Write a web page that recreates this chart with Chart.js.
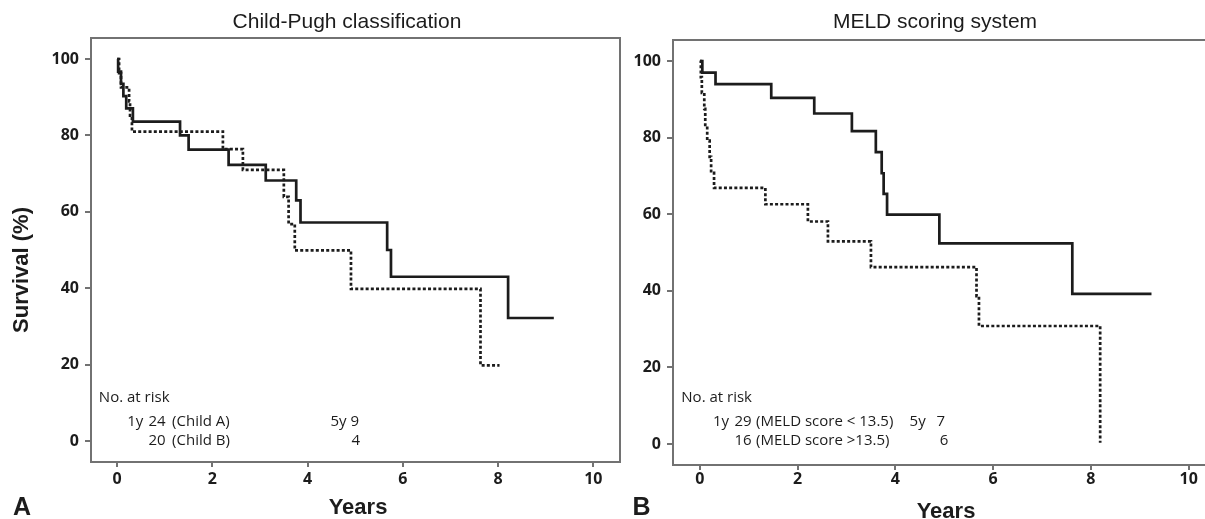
<!DOCTYPE html>
<html>
<head>
<meta charset="utf-8">
<title>Survival by Child-Pugh and MELD</title>
<script src="https://cdn.jsdelivr.net/npm/chart.js@4.4.0/dist/chart.umd.min.js"></script>
<style>
html, body { margin: 0; padding: 0; background: #fff; overflow: hidden; }
#wrap { position: relative; width: 1205px; height: 519px; overflow: hidden; }
#panelA { position: absolute; left: 0; top: 0; width: 625px; height: 519px; }
#panelB { position: absolute; left: 625px; top: 0; width: 600px; height: 519px; }
canvas { display: block; }
</style>
</head>
<body>
<div id="wrap">
  <div id="panelA"><canvas id="chartA" width="625" height="519" style="width:625px;height:519px"></canvas></div>
  <div id="panelB"><canvas id="chartB" width="600" height="519" style="width:600px;height:519px"></canvas></div>
</div>
<script>
// axis ticks
var xTicks = [0, 2, 4, 6, 8, 10];
var yTicks = [0, 20, 40, 60, 80, 100];

// A: Child-Pugh (time in years, survival in %)
var childATime = [0, 0.02, 0.08, 0.13, 0.19, 0.33, 1.32, 1.50, 2.34, 3.12, 3.76, 3.85, 5.67, 5.75, 8.21, 9.17];
var childASurv = [100, 96.7, 93.5, 90.3, 87.1, 83.6, 80.0, 76.3, 72.3, 68.2, 63.0, 57.2, 50.0, 43.0, 32.2, 32.2];
var childBTime = [0, 0.04, 0.08, 0.25, 0.27, 0.31, 2.22, 2.64, 3.50, 3.60, 3.73, 4.91, 7.63, 8.03];
var childBSurv = [100, 96.3, 92.6, 88.9, 85.2, 81.0, 76.4, 71.0, 63.9, 56.8, 49.9, 39.8, 19.8, 19.8];

// B: MELD score
var meldLowTime = [0, 0.05, 0.32, 1.46, 2.34, 3.11, 3.60, 3.72, 3.76, 3.83, 4.90, 7.62, 9.24];
var meldLowSurv = [100, 97.0, 94.0, 90.4, 86.3, 81.7, 76.2, 70.7, 65.3, 59.9, 52.4, 39.2, 39.2];
var meldHighTime = [0, 0.02, 0.04, 0.09, 0.11, 0.15, 0.20, 0.23, 0.29, 1.34, 2.21, 2.62, 3.50, 5.66, 5.71, 8.19];
var meldHighSurv = [100, 95.8, 91.7, 87.5, 83.3, 79.2, 75.0, 70.8, 66.9, 62.6, 58.1, 52.9, 46.2, 38.6, 30.8, 0.3];

// numbers at risk
var riskTextA = ["1y", "24", "(Child A)", "5y", "9", "20", "(Child B)", "4"];
var riskTextB = ["1y", "29", "(MELD score < 13.5)", "5y", "7", "16", "(MELD score >13.5)", "6"];

var INK = "#1c1c1c";
var FRAME = "#727272";
var TICK_FONT = { family: "'Open Sans', 'DejaVu Sans', sans-serif", size: 16, weight: "bold" };

function points(t, s) {
    var out = [], i;
    for (i = 0; i < t.length; i++) {
        out.push({ x: t[i], y: s[i] });
    }
    return out;
}

var panelText = {
    id: "panelText",
    afterDraw: function (chart, args, o) {
        var ctx = chart.ctx, a = chart.chartArea,
            xs = chart.scales.x, ys = chart.scales.y, i, r;
        ctx.save();
        ctx.strokeStyle = FRAME;
        ctx.lineWidth = 2;
        ctx.strokeRect(a.left, a.top, a.right - a.left, a.bottom - a.top);

        ctx.fillStyle = INK;
        ctx.textBaseline = "alphabetic";
        ctx.textAlign = "center";
        ctx.font = "21px 'Liberation Sans', Arial, sans-serif";
        ctx.fillText(o.title, o.titlePos[0], o.titlePos[1]);

        ctx.font = "bold 22px 'Liberation Sans', Arial, sans-serif";
        ctx.fillText("Years", o.yearsPos[0], o.yearsPos[1]);
        ctx.font = "bold 25px 'Liberation Sans', Arial, sans-serif";
        ctx.fillText(o.letter, o.letterPos[0], o.letterPos[1]);

        if (o.yTitle) {
            ctx.save();
            ctx.translate(o.yTitlePos[0], o.yTitlePos[1]);
            ctx.rotate(-Math.PI / 2);
            ctx.font = "bold 22px 'Liberation Sans', Arial, sans-serif";
            ctx.textBaseline = "middle";
            ctx.fillText(o.yTitle, 0, 0);
            ctx.restore();
        }

        // at-risk table, anchored in data units
        ctx.font = "15px 'Open Sans', 'DejaVu Sans', sans-serif";
        ctx.textAlign = "left";
        ctx.textBaseline = "middle";
        ctx.fillText("No. at risk", xs.getPixelForValue(o.headPos[0]), ys.getPixelForValue(o.headPos[1]));
        for (i = 0; i < o.risk.length; i++) {
            r = o.riskPos[i];
            ctx.fillText(o.risk[i], xs.getPixelForValue(r[0]), ys.getPixelForValue(r[1]));
        }
        ctx.restore();
    }
};

function makeChart(id, sets, yWidth, xHeight, pad, tickLen, tickPad, textOpts) {
    return new Chart(document.getElementById(id).getContext("2d"), {
        type: "line",
        data: {
            datasets: sets.map(function (s) {
                return {
                    data: points(s.t, s.s),
                    stepped: "before",
                    borderColor: INK,
                    borderWidth: 2.7,
                    borderDash: s.dash,
                    borderCapStyle: "butt",
                    pointRadius: 0,
                    fill: false
                };
            })
        },
        options: {
            responsive: false,
            animation: false,
            devicePixelRatio: 1,
            layout: { padding: pad },
            plugins: {
                legend: { display: false },
                tooltip: { enabled: false },
                panelText: textOpts
            },
            scales: {
                x: {
                    type: "linear",
                    min: -0.55,
                    max: 10.56,
                    afterBuildTicks: function (sc) {
                        sc.ticks = xTicks.map(function (v) { return { value: v }; });
                    },
                    afterFit: function (sc) { sc.height = xHeight; },
                    border: { display: false },
                    grid: { drawOnChartArea: false, drawTicks: true, tickLength: tickLen[0], color: FRAME, lineWidth: 2 },
                    ticks: { font: TICK_FONT, color: INK, padding: tickPad[0], maxRotation: 0 }
                },
                y: {
                    type: "linear",
                    min: -5.5,
                    max: 105.5,
                    afterBuildTicks: function (sc) {
                        sc.ticks = yTicks.map(function (v) { return { value: v }; });
                    },
                    afterFit: function (sc) { sc.width = yWidth; },
                    border: { display: false },
                    grid: { drawOnChartArea: false, drawTicks: true, tickLength: tickLen[1], color: FRAME, lineWidth: 2 },
                    ticks: { font: TICK_FONT, color: INK, padding: tickPad[1] }
                }
            }
        },
        plugins: [panelText]
    });
}

makeChart("chartA", [
    { t: childATime, s: childASurv, dash: [] },
    { t: childBTime, s: childBSurv, dash: [3, 2.2] }
], 91, 57, { top: 38, right: 5, left: 0, bottom: 0 }, [5, 6], [3, 6], {
    title: "Child-Pugh classification",
    titlePos: [347, 28],
    yearsPos: [358, 514],
    letter: "A",
    letterPos: [22, 515],
    yTitle: "Survival (%)",
    yTitlePos: [22, 270],
    headPos: [-0.385, 11.3],
    risk: riskTextA,
    riskPos: [[0.21, 5.06], [0.655, 5.06], [1.153, 5.06], [4.48, 5.06], [4.9, 5.06],
              [0.655, 0.1], [1.153, 0.1], [4.92, 0.1]]
});

makeChart("chartB", [
    { t: meldLowTime, s: meldLowSurv, dash: [] },
    { t: meldHighTime, s: meldHighSurv, dash: [3, 2.2] }
], 48, 54, { top: 40, right: 9, left: 0, bottom: 0 }, [5, 6], [0, 6], {
    title: "MELD scoring system",
    titlePos: [310, 28],
    yearsPos: [321, 518],
    letter: "B",
    letterPos: [16.5, 515],
    yTitle: null,
    headPos: [-0.38, 12.08],
    risk: riskTextB,
    riskPos: [[0.266, 5.9], [0.707, 5.9], [1.15, 5.9], [4.29, 5.9], [4.84, 5.9],
              [0.707, 0.94], [1.15, 0.94], [4.91, 0.94]]
});
</script>
</body>
</html>
